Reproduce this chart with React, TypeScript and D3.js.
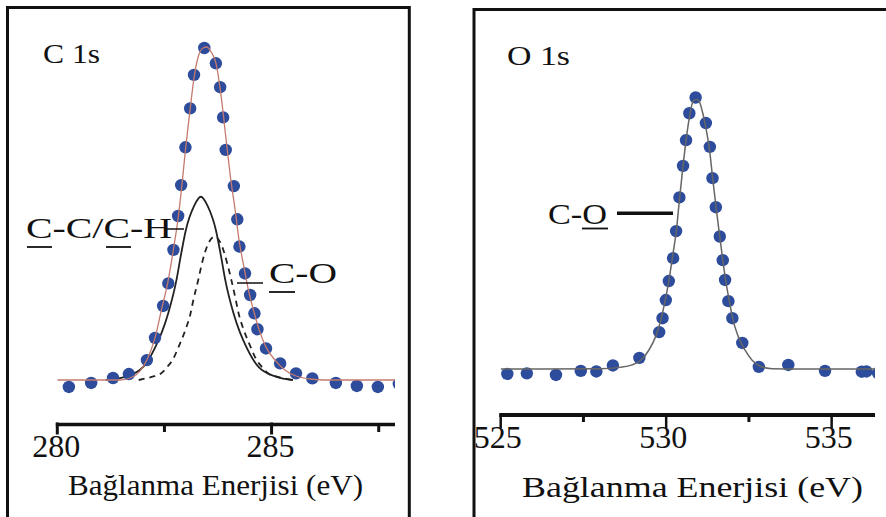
import React from "react";
import * as d3 from "d3";

// ---- C 1s spectrum (binding energy in eV, intensity in a.u., baseline = 0) ----
const C1S_EV = [280.27, 280.79, 281.3, 281.67, 282.09, 282.28, 282.47, 282.59, 282.71, 282.82, 282.89, 282.99, 283.1, 283.19, 283.43, 283.7, 283.8, 283.87, 283.93, 284.12, 284.2, 284.25, 284.38, 284.5, 284.6, 284.67, 284.87, 285.2, 285.57, 285.95, 286.5, 286.99, 287.48, 287.97];
const C1S_INT = [-2.1, -0.9, 0.6, 1.8, 6.0, 12.7, 22.3, 29.1, 39.2, 49.4, 58.7, 70.1, 81.8, 91.9, 100, 95.4, 88.2, 79.1, 69.3, 58.4, 48.4, 40.2, 32.1, 25.6, 20.1, 15.3, 9.5, 5.0, 2.0, 0.5, -0.9, -1.8, -2.1, -1.2];

// fitted envelope
const C1S_FIT_EV = [280.0, 281.46, 281.7, 281.93, 282.09, 282.28, 282.44, 282.58, 282.7, 282.82, 282.91, 283.0, 283.1, 283.19, 283.28, 283.4, 283.49, 283.59, 283.7, 283.82, 283.94, 284.05, 284.15, 284.24, 284.36, 284.47, 284.59, 284.71, 284.87, 285.08, 285.31, 285.57, 285.9, 286.25, 287.88];
const C1S_FIT_INT = [0, 0, 0.6, 2.7, 6.0, 12.7, 21.7, 29.5, 38.6, 48.8, 59.0, 70.5, 81.6, 91.0, 97.0, 100.0, 100.3, 98.8, 95.5, 85.8, 72.3, 60.2, 51.2, 42.2, 33.7, 26.5, 20.5, 15.1, 9.9, 6.0, 3.0, 1.2, 0.3, 0, 0];

// C-C / C-H component
const C1S_CC_EV = [281.13, 281.6, 282.01, 282.29, 282.44, 282.59, 282.78, 282.88, 283.0, 283.19, 283.35, 283.51, 283.7, 283.82, 283.92, 284.11, 284.26, 284.41, 284.69, 285.1, 285.5];
const C1S_CC_INT = [0, 1.0, 4.0, 10.0, 14.4, 20.2, 30.1, 37.3, 45.2, 52.4, 55.2, 52.4, 45.2, 37.3, 30.1, 20.2, 14.4, 10.0, 4.0, 1.0, 0];

// C-O component
const C1S_CO_EV = [281.9, 282.22, 282.39, 282.57, 282.71, 282.83, 282.99, 283.11, 283.17, 283.29, 283.38, 283.52, 283.67, 283.82, 283.96, 284.06, 284.17, 284.23, 284.35, 284.51, 284.63, 284.77, 284.95, 285.12, 285.49];
const C1S_CO_INT = [0, 1.0, 1.7, 4.0, 6.5, 10.0, 15.1, 20.1, 23.8, 30.2, 35.4, 41.0, 43.2, 41.0, 35.4, 30.2, 23.8, 20.1, 15.1, 10.0, 6.5, 4.0, 1.7, 1.0, 0];

const C1S_MAJOR = [280, 285];
const C1S_MINOR = [282.5, 287.5];

// ---- O 1s spectrum ----
const O1S_EV = [525.2, 525.79, 526.67, 527.42, 527.89, 528.39, 529.19, 529.79, 529.89, 529.99, 530.08, 530.21, 530.3, 530.4, 530.51, 530.6, 530.7, 530.89, 531.2, 531.32, 531.4, 531.5, 531.62, 531.71, 531.78, 531.88, 532.0, 532.3, 532.8, 533.69, 534.8, 535.91, 536.05, 536.4];
const O1S_INT = [-1.8, -1.6, -2.2, -0.7, -0.9, 1.3, 4.1, 13.6, 18.7, 25.4, 32.4, 40.8, 50.8, 63.2, 74.8, 84.3, 94.2, 100, 90.6, 81.8, 70.3, 59.6, 48.8, 40.1, 32.8, 25.0, 18.7, 9.6, 0.8, 1.5, -0.7, -1.0, -0.9, -1.5];

const O1S_FIT_EV = [525.0, 528.0, 528.6, 528.97, 529.24, 529.48, 529.69, 529.84, 529.96, 530.08, 530.2, 530.31, 530.4, 530.51, 530.61, 530.72, 530.82, 530.93, 531.02, 531.11, 531.2, 531.31, 531.4, 531.51, 531.62, 531.71, 531.81, 531.92, 532.02, 532.17, 532.38, 532.59, 532.83, 533.2, 534.04, 536.31];
const O1S_FIT_INT = [0, 0.1, 0.6, 1.5, 3.3, 7.0, 12.2, 18.1, 24.7, 32.4, 42.0, 51.2, 62.3, 74.8, 85.1, 94.0, 98.8, 99.3, 98.0, 94.0, 88.8, 80.7, 70.8, 59.3, 48.7, 40.2, 31.7, 24.3, 18.1, 12.2, 7.0, 3.3, 1.1, 0.1, 0, 0];

const O1S_MAJOR = [525, 530, 535];
const O1S_MINOR = [527.5, 532.5];

const AXIS_TITLE = "Bağlanma Enerjisi (eV)";

const SERIF = "Liberation Serif, Times New Roman, Times, serif";
const DOT = "#2d4c9c";
const INK = "#111";

const zip = (xs: number[], ys: number[]): [number, number][] => xs.map((x, i) => [x, ys[i]]);

const txt = { fontFamily: SERIF } as React.CSSProperties;

export default function App() {
  // scales
  const xC = d3.scaleLinear().domain([280, 287.88]).range([57.3, 395]);
  const yC = d3.scaleLinear().domain([0, 100]).range([380, 48]);
  const xO = d3.scaleLinear().domain([525, 536.31]).range([500.7, 875]);
  const yO = d3.scaleLinear().domain([0, 100]).range([369, 97.5]);

  const lineC = d3
    .line<[number, number]>()
    .x((d) => xC(d[0]))
    .y((d) => yC(d[1]))
    .curve(d3.curveMonotoneX);
  const lineO = d3
    .line<[number, number]>()
    .x((d) => xO(d[0]))
    .y((d) => yO(d[1]))
    .curve(d3.curveMonotoneX);

  const cAxisY = 424.5;
  const oAxisY = 415;

  return (
    <svg
      width={886}
      height={517}
      style={{ position: "absolute", left: 0, top: 0, display: "block", background: "#fff" }}
    >
      <defs>
        <clipPath id="clipC">
          <rect x={xC.range()[0]} y={0} width={xC.range()[1] - xC.range()[0]} height={420} />
        </clipPath>
        <clipPath id="clipO">
          <rect x={xO.range()[0]} y={0} width={xO.range()[1] - xO.range()[0]} height={410} />
        </clipPath>
      </defs>
      <rect x={0} y={0} width={886} height={517} fill="#fff" />

      {/* ===== C 1s panel ===== */}
      <path d="M7.5,520 V7.5 H409.3 V520" fill="none" stroke={INK} strokeWidth={3} />

      <g clipPath="url(#clipC)">
        <path d={lineC(zip(C1S_CO_EV, C1S_CO_INT)) || ""} fill="none" stroke="#222" strokeWidth={1.8} strokeDasharray="6,5" />
        <path d={lineC(zip(C1S_CC_EV, C1S_CC_INT)) || ""} fill="none" stroke="#222" strokeWidth={1.8} />
        {C1S_EV.map((e, i) => (
          <circle key={i} cx={xC(e)} cy={yC(C1S_INT[i])} r={6.2} fill={DOT} />
        ))}
        <path d={lineC(zip(C1S_FIT_EV, C1S_FIT_INT)) || ""} fill="none" stroke="#c47a6e" strokeWidth={1.3} />
      </g>

      {/* axis */}
      <line x1={xC.range()[0] - 1.5} x2={xC.range()[1]} y1={cAxisY} y2={cAxisY} stroke={INK} strokeWidth={3.5} />
      {C1S_MAJOR.map((v) => (
        <line key={v} x1={xC(v)} x2={xC(v)} y1={cAxisY - 2} y2={cAxisY + 10} stroke={INK} strokeWidth={3} />
      ))}
      {C1S_MINOR.map((v) => (
        <line key={v} x1={xC(v)} x2={xC(v)} y1={cAxisY} y2={cAxisY + 7.5} stroke={INK} strokeWidth={3} />
      ))}
      {C1S_MAJOR.map((v) => (
        <text key={v} style={txt} x={xC(v) - 1} y={457} fontSize={32} textAnchor="middle" fill={INK}>
          {v}
        </text>
      ))}
      <text style={txt} x={68} y={495} fontSize={30} textLength={295} lengthAdjust="spacingAndGlyphs" fill={INK}>
        {AXIS_TITLE}
      </text>

      {/* labels */}
      <text style={txt} x={43} y={63} fontSize={28} textLength={57} lengthAdjust="spacingAndGlyphs" fill={INK}>
        C 1s
      </text>
      <text style={txt} x={26} y={238} fontSize={30} textLength={146} lengthAdjust="spacingAndGlyphs" fill={INK}>
        C-C/C-H
      </text>
      <line x1={27} x2={52} y1={247} y2={247} stroke={INK} strokeWidth={1.8} />
      <line x1={106} x2={131} y1={247} y2={247} stroke={INK} strokeWidth={1.8} />
      <line x1={167} x2={184} y1={229} y2={229} stroke={INK} strokeWidth={1.5} />

      <text style={txt} x={269} y={283} fontSize={30} textLength={68} lengthAdjust="spacingAndGlyphs" fill={INK}>
        C-O
      </text>
      <line x1={269} x2={295} y1={292} y2={292} stroke={INK} strokeWidth={1.8} />
      <line x1={237} x2={263} y1={283} y2={283} stroke={INK} strokeWidth={1.5} />

      {/* ===== O 1s panel ===== */}
      <path d="M474,520 V9.5 H890" fill="none" stroke={INK} strokeWidth={3} />

      <g clipPath="url(#clipO)">
        {O1S_EV.map((e, i) => (
          <circle key={i} cx={xO(e)} cy={yO(O1S_INT[i])} r={6.2} fill={DOT} />
        ))}
        <path d={lineO(zip(O1S_FIT_EV, O1S_FIT_INT)) || ""} fill="none" stroke="#666" strokeWidth={1.5} />
      </g>

      <line x1={xO.range()[0] - 1.5} x2={xO.range()[1]} y1={oAxisY} y2={oAxisY} stroke={INK} strokeWidth={4} />
      {O1S_MAJOR.map((v) => (
        <line key={v} x1={xO(v)} x2={xO(v)} y1={oAxisY} y2={oAxisY + 13} stroke={INK} strokeWidth={2.5} />
      ))}
      {O1S_MINOR.map((v) => (
        <line key={v} x1={xO(v)} x2={xO(v)} y1={oAxisY} y2={oAxisY + 7} stroke={INK} strokeWidth={3} />
      ))}
      {O1S_MAJOR.map((v) => (
        <text key={v} style={txt} x={xO(v) - 3} y={448} fontSize={32} textAnchor="middle" fill={INK}>
          {v}
        </text>
      ))}
      <text style={txt} x={522} y={497} fontSize={30} textLength={341} lengthAdjust="spacingAndGlyphs" fill={INK}>
        {AXIS_TITLE}
      </text>

      <text style={txt} x={507} y={65} fontSize={28} textLength={63} lengthAdjust="spacingAndGlyphs" fill={INK}>
        O 1s
      </text>
      <text style={txt} x={548} y={224} fontSize={30} textLength={59} lengthAdjust="spacingAndGlyphs" fill={INK}>
        C-O
      </text>
      <line x1={582} x2={608} y1={228.5} y2={228.5} stroke={INK} strokeWidth={1.8} />
      <line x1={617} x2={673} y1={213.3} y2={213.3} stroke={INK} strokeWidth={3.5} />
    </svg>
  );
}
